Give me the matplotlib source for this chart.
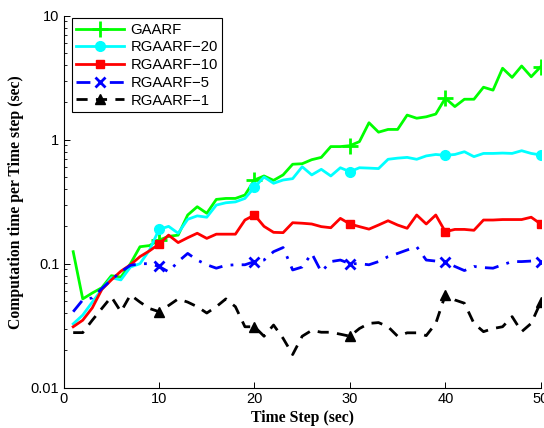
import matplotlib
matplotlib.use("Agg")
import matplotlib.pyplot as plt
from matplotlib.ticker import FixedLocator, FixedFormatter, LogLocator, NullFormatter

steps = list(range(1, 51))

gaarf = [0.125, 0.052, 0.058, 0.064, 0.080, 0.078, 0.100, 0.137, 0.140, 0.155,
         0.166, 0.170, 0.247, 0.288, 0.255, 0.330, 0.336, 0.336, 0.358, 0.473,
         0.510, 0.470, 0.520, 0.634, 0.640, 0.690, 0.720, 0.880, 0.880, 0.895,
         0.965, 1.370, 1.150, 1.210, 1.210, 1.580, 1.490, 1.530, 1.610, 2.160,
         1.850, 2.120, 2.120, 2.650, 2.510, 3.770, 3.180, 3.930, 3.220, 3.880]

rgaarf20 = [0.0327, 0.0385, 0.049, 0.062, 0.077, 0.074, 0.094, 0.100, 0.129, 0.189,
            0.200, 0.176, 0.228, 0.243, 0.237, 0.297, 0.310, 0.315, 0.336, 0.413,
            0.500, 0.445, 0.473, 0.485, 0.605, 0.520, 0.577, 0.510, 0.594, 0.552,
            0.594, 0.590, 0.585, 0.695, 0.710, 0.720, 0.695, 0.740, 0.760, 0.748,
            0.760, 0.800, 0.730, 0.775, 0.775, 0.780, 0.775, 0.815, 0.775, 0.753]

rgaarf10 = [0.031, 0.035, 0.044, 0.062, 0.074, 0.087, 0.098, 0.114, 0.127, 0.144,
            0.170, 0.148, 0.162, 0.176, 0.160, 0.173, 0.173, 0.173, 0.225, 0.247,
            0.200, 0.179, 0.178, 0.214, 0.212, 0.209, 0.199, 0.195, 0.232, 0.209,
            0.199, 0.190, 0.205, 0.222, 0.205, 0.193, 0.247, 0.209, 0.247, 0.181,
            0.189, 0.189, 0.186, 0.225, 0.225, 0.227, 0.227, 0.227, 0.237, 0.209]

rgaarf5 = [0.041, 0.051, 0.053, 0.063, 0.074, 0.086, 0.097, 0.100, 0.100, 0.095,
           0.086, 0.104, 0.121, 0.107, 0.098, 0.092, 0.097, 0.098, 0.098, 0.104,
           0.107, 0.125, 0.135, 0.089, 0.094, 0.121, 0.086, 0.104, 0.107, 0.100,
           0.100, 0.098, 0.104, 0.114, 0.121, 0.129, 0.137, 0.107, 0.105, 0.104,
           0.095, 0.088, 0.095, 0.093, 0.092, 0.098, 0.104, 0.104, 0.105, 0.104]

rgaarf1 = [0.0278, 0.0278, 0.035, 0.0435, 0.054, 0.041, 0.056, 0.049, 0.0435, 0.041,
           0.046, 0.052, 0.049, 0.045, 0.040, 0.045, 0.052, 0.045, 0.031, 0.031,
           0.026, 0.032, 0.025, 0.0185, 0.026, 0.029, 0.028, 0.028, 0.027, 0.026,
           0.030, 0.033, 0.0335, 0.031, 0.026, 0.0277, 0.0277, 0.0263, 0.033, 0.056,
           0.051, 0.048, 0.033, 0.0283, 0.030, 0.031, 0.0374, 0.0283, 0.033, 0.049]

labels = ["GAARF", "RGAARF\u221220", "RGAARF\u221210", "RGAARF\u22125", "RGAARF\u22121"]
x_ticks = [0, 10, 20, 30, 40, 50]
y_ticks = [0.01, 0.1, 1, 10]
y_tick_labels = ["0.01", "0.1", "1", "10"]

sans = ["Liberation Sans", "DejaVu Sans"]
serif = ["Liberation Serif", "DejaVu Serif"]

fig = plt.figure(figsize=(5.44, 4.28), dpi=100)
ax = fig.add_axes([0.117, 0.0942, 0.877, 0.8691])

mk = [9, 19, 29, 39, 49]
ax.plot(steps, gaarf, color=(0, 1, 0), lw=2, marker="+", ms=11, mew=2,
        markevery=mk, label=labels[0])
ax.plot(steps, rgaarf20, color=(0, 1, 1), lw=2, marker="o", ms=7,
        markevery=mk, label=labels[1])
ax.plot(steps, rgaarf10, color=(1, 0, 0), lw=2, marker="s", ms=6,
        markevery=mk, label=labels[2])
ax.plot(steps, rgaarf5, color=(0, 0, 1), lw=2, ls=(0, (5, 3, 1, 3)), marker="x",
        ms=7, mew=2, markevery=mk, label=labels[3])
ax.plot(steps, rgaarf1, color="black", lw=2, ls=(0, (4, 3)), marker="^", ms=7,
        markevery=mk, label=labels[4])

ax.set_yscale("log")
ax.set_xlim(0, 50)
ax.set_ylim(0.01, 10)
ax.xaxis.set_major_locator(FixedLocator(x_ticks))
ax.yaxis.set_major_locator(FixedLocator(y_ticks))
ax.yaxis.set_major_formatter(FixedFormatter(y_tick_labels))
ax.yaxis.set_minor_locator(LogLocator(base=10, subs=range(2, 10)))
ax.yaxis.set_minor_formatter(NullFormatter())

ax.spines["top"].set_visible(False)
ax.spines["right"].set_visible(False)
for s in ("left", "bottom"):
    ax.spines[s].set_linewidth(0.8)

ax.tick_params(axis="both", which="major", direction="in", length=4, width=0.7,
               labelsize=10.5, pad=3)
ax.tick_params(axis="y", which="minor", direction="in", length=2.5, width=0.6)
for lbl in ax.get_xticklabels() + ax.get_yticklabels():
    lbl.set_fontfamily(sans)

ax.set_xlabel("Time Step (sec)", fontfamily=serif, fontweight="bold", fontsize=11.3, labelpad=3)
ax.set_ylabel("Computation time per Time step (sec)", fontfamily=serif,
              fontweight="bold", fontsize=11.3, labelpad=5)

leg = ax.legend(loc="upper left", bbox_to_anchor=(0.017, 0.993), borderaxespad=0,
                prop={"family": sans, "size": 10.7}, fancybox=False, framealpha=1,
                edgecolor="black", handlelength=3.2, handletextpad=0.45,
                labelspacing=0.25, borderpad=0.3)
leg.get_frame().set_linewidth(0.8)

fig.savefig("out.png", dpi=100)
